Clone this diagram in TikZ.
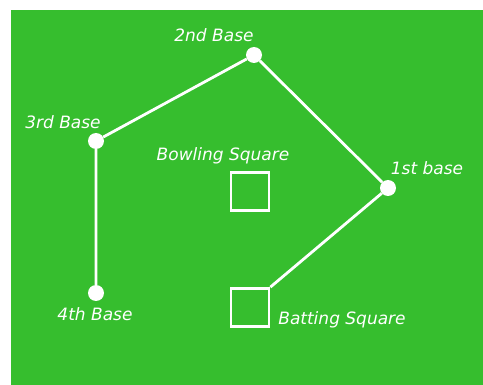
\documentclass[tikz,border=0pt]{standalone}
\usepackage{fontspec}
\setmainfont{DejaVu Sans}
\definecolor{field}{RGB}{54,190,46}
\begin{document}
\begin{tikzpicture}[x=1pt,y=-1pt,
  base/.style={circle,fill=white,inner sep=0pt,minimum size=16pt},
  lbl/.style={text=white,font=\fontsize{17}{19}\selectfont\itshape,inner sep=0pt},
  sq/.style={draw=white,line width=2.8pt,minimum size=38pt,inner sep=0pt},
  path/.style={draw=white,line width=2.8pt}]
\useasboundingbox (0,0) rectangle (483,385);
\fill[field] (11,10) rectangle (483,385);
\node[base] (b2) at (254,55) {};
\node[base] (b3) at (96,141) {};
\node[base] (b1) at (388,188) {};
\node[base] (b4) at (96,293) {};
\node[sq] (bowl) at (250,191.5) {};
\node[sq] (bat) at (250,307.5) {};
\draw[path] (b4) -- (b3) -- (b2) -- (b1) -- (bat.north east);
\node[lbl] (t2) at (214,35) {2nd Base};
\node[lbl] (t3) at (63,122) {3rd Base};
\node[lbl] (tb) at (223,156) {Bowling Square};
\node[lbl] (t1) at (427,168) {1st base};
\node[lbl] (t4) at (95,314) {4th Base};
\node[lbl] (tt) at (342,320) {Batting Square};
\end{tikzpicture}
\end{document}
